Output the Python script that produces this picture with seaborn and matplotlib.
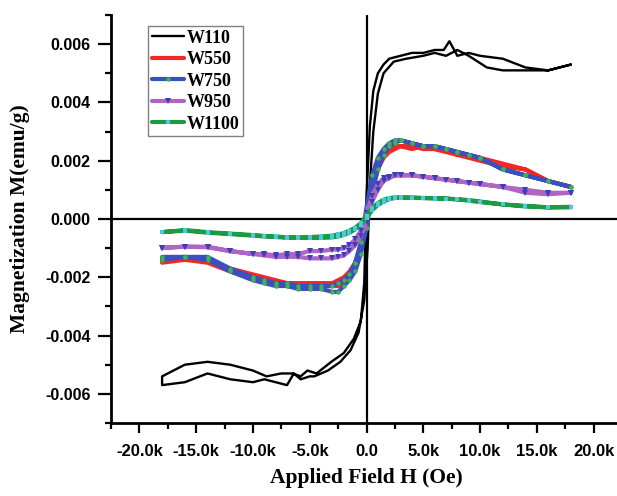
import matplotlib
matplotlib.use("Agg")
import matplotlib.pyplot as plt
import seaborn as sns
import pandas as pd
from matplotlib.ticker import MultipleLocator, FuncFormatter

# field grid (Oe) used by the W550..W1100 loops, descending sweep
H_down = [18000, 16000, 14000, 12000, 10000, 9000, 8000, 7000, 6000, 5000, 4000, 3000, 2500, 2000,
          1500, 1000, 500, 0, -500, -1000, -1500, -2000, -2500, -3000, -4000, -5000, -6000, -7000,
          -8000, -9000, -10000, -12000, -14000, -16000, -18000]
H_up = H_down[::-1]

# W110 (black) has its own points
W110_H_down = [18000, 16000, 14000, 12000, 10000, 9000, 8000, 7300, 6800, 6000, 5000, 4000, 3000, 2000,
               1500, 1000, 600, 300, 0, -200, -500, -1100, -2000, -3100, -4400, -5200, -5800, -6500,
               -7500, -8800, -10000, -12000, -14000, -16000, -18000]
W110_M_down = [0.0053, 0.0051, 0.0052, 0.0055, 0.0056, 0.0057, 0.0056, 0.0061, 0.0058, 0.0058, 0.0057,
               0.0057, 0.0056, 0.0055, 0.0053, 0.0050, 0.0044, 0.0032, 0.0008, -0.0022, -0.0035, -0.0041,
               -0.0046, -0.0049, -0.0053, -0.0052, -0.0054, -0.0053, -0.0053, -0.0054, -0.0052, -0.0050,
               -0.0049, -0.0050, -0.0054]
W110_H_up = [-18000, -16000, -14000, -12000, -10000, -9000, -8000, -7000, -6400, -5800, -5000, -4600,
             -3400, -2300, -1400, -700, -200, 100, 300, 600, 1000, 1500, 2400, 3500, 5000, 6000, 7000,
             8000, 9000, 10600, 12000, 14000, 16000, 18000]
W110_M_up = [-0.0057, -0.0056, -0.0053, -0.0055, -0.0056, -0.0055, -0.0056, -0.0057, -0.0053, -0.0055,
             -0.0054, -0.0054, -0.0052, -0.0049, -0.0045, -0.0039, -0.0028, -0.0010, 0.0012, 0.0030,
             0.0043, 0.0050, 0.0054, 0.0055, 0.0056, 0.0057, 0.0056, 0.0058, 0.0056, 0.0052, 0.0051,
             0.0051, 0.0051, 0.0053]

W550_down = [0.0011, 0.0013, 0.0017, 0.0019, 0.0021, 0.0022, 0.0022, 0.0023, 0.0024, 0.0024, 0.0025,
             0.0025, 0.0025, 0.0024, 0.0022, 0.0019, 0.0013, 0.0002, -0.0009, -0.0015, -0.0018, -0.0020,
             -0.0021, -0.0022, -0.0022, -0.0022, -0.0022, -0.0022, -0.0021, -0.0020, -0.0019, -0.0017,
             -0.0014, -0.0014, -0.0014]
W550_up = [-0.0015, -0.0014, -0.0015, -0.0018, -0.0020, -0.0021, -0.0022, -0.0023, -0.0023, -0.0023,
           -0.0023, -0.0023, -0.0023, -0.0022, -0.0020, -0.0017, -0.0011, -0.0002, 0.0010, 0.0017,
           0.0021, 0.0023, 0.0024, 0.0025, 0.0024, 0.0025, 0.0024, 0.0024, 0.0022, 0.0021, 0.0020,
           0.0018, 0.0017, 0.0013, 0.0011]

W750_down = [0.0011, 0.0013, 0.0015, 0.0017, 0.0021, 0.0022, 0.0023, 0.0024, 0.0025, 0.0025, 0.0026,
             0.0027, 0.0027, 0.0026, 0.0024, 0.0021, 0.0015, 0.0004, -0.0008, -0.0015, -0.0019, -0.0021,
             -0.0022, -0.0023, -0.0023, -0.0023, -0.0023, -0.0022, -0.0022, -0.0021, -0.0020, -0.0017,
             -0.0013, -0.0013, -0.0013]
W750_up = [-0.0014, -0.0013, -0.0014, -0.0018, -0.0021, -0.0022, -0.0023, -0.0023, -0.0024, -0.0024,
           -0.0024, -0.0025, -0.0025, -0.0023, -0.0021, -0.0018, -0.0012, -0.0003, 0.0009, 0.0017,
           0.0022, 0.0025, 0.0026, 0.0027, 0.0026, 0.0025, 0.0025, 0.0024, 0.0023, 0.0022, 0.0021,
           0.0017, 0.0015, 0.0013, 0.0011]

W950_down = [0.0009, 0.0009, 0.0010, 0.0011, 0.0012, 0.00125, 0.0013, 0.00135, 0.0014, 0.00145, 0.0015,
             0.0015, 0.0015, 0.00145, 0.0014, 0.0012, 0.0008, 0.0002, -0.0004, -0.0007, -0.0009, -0.0010,
             -0.00105, -0.00105, -0.0011, -0.0011, -0.0012, -0.0012, -0.00125, -0.0012, -0.0012, -0.0011,
             -0.00095, -0.00095, -0.00098]
W950_up = [-0.0010, -0.00095, -0.00097, -0.0011, -0.0012, -0.00125, -0.0013, -0.0013, -0.0013, -0.00135,
           -0.00135, -0.00135, -0.0013, -0.00125, -0.0011, -0.0009, -0.0006, -0.0001, 0.0006, 0.0010,
           0.0013, 0.0014, 0.0015, 0.0015, 0.0015, 0.00145, 0.0014, 0.00135, 0.0013, 0.00125, 0.0012,
           0.0011, 0.0009, 0.00085, 0.0009]

W1100_down = [0.0004, 0.0004, 0.00045, 0.0005, 0.0006, 0.00065, 0.00068, 0.0007, 0.00072, 0.00072,
              0.00073, 0.00074, 0.00074, 0.00072, 0.00066, 0.00055, 0.00038, 0.00012, -0.00014, -0.0003,
              -0.0004, -0.00048, -0.00053, -0.00057, -0.0006, -0.00062, -0.00063, -0.00063, -0.0006,
              -0.00058, -0.00055, -0.0005, -0.00045, -0.00038, -0.00045]
W1100_up = [-0.00045, -0.0004, -0.00047, -0.00052, -0.00057, -0.0006, -0.00062, -0.00064, -0.00065,
            -0.00065, -0.00065, -0.00063, -0.0006, -0.00055, -0.00047, -0.00036, -0.0002, 0.00005, 0.0003,
            0.00048, 0.0006, 0.00068, 0.00072, 0.00073, 0.00073, 0.00072, 0.0007, 0.0007, 0.00067,
            0.00063, 0.00058, 0.0005, 0.00043, 0.0004, 0.00042]

sns.set_theme(style="ticks")
plt.rcParams["font.family"] = ["Liberation Sans", "DejaVu Sans"]
plt.rcParams["font.weight"] = "bold"
plt.rcParams["text.color"] = "black"
plt.rcParams["axes.labelcolor"] = "black"

fig = plt.figure(figsize=(6.17, 4.96), dpi=100)
ax = fig.add_axes([111 / 617, 1 - 423 / 496, 511 / 617, 408 / 496])

ax.axhline(0, color="black", lw=1.6, zorder=1)
ax.axvline(0, color="black", lw=1.6, zorder=1)

df = pd.DataFrame({"H": W110_H_down + W110_H_up, "M": W110_M_down + W110_M_up})
sns.lineplot(data=df, x="H", y="M", sort=False, estimator=None, color="black", lw=1.7,
             label="W110", ax=ax)

loops = [
    ("W550", W550_down, W550_up, "#f02828", None, None, 0),
    ("W750", W750_down, W750_up, "#3c4fbe", "o", "#3cb450", 3.2),
    ("W950", W950_down, W950_up, "#b065c4", "v", "#3b3fb8", 4.0),
    ("W1100", W1100_down, W1100_up, "#1e9a46", "s", "#4cc8dc", 3.0),
]
for name, m_down, m_up, col, mk, mcol, ms in loops:
    df = pd.DataFrame({"H": H_down + H_up, "M": m_down + m_up})
    kw = {}
    if mk is not None:
        kw = dict(marker=mk, markersize=ms, markerfacecolor=mcol, markeredgecolor=mcol,
                  markeredgewidth=0)
    sns.lineplot(data=df, x="H", y="M", sort=False, estimator=None, color=col, lw=3.0,
                 label=name, ax=ax, **kw)

ax.set_xlim(-22500, 22500)
ax.set_ylim(-0.007, 0.007)
ax.xaxis.set_major_locator(MultipleLocator(5000))
ax.xaxis.set_minor_locator(MultipleLocator(2500))
ax.yaxis.set_major_locator(MultipleLocator(0.002))
ax.yaxis.set_minor_locator(MultipleLocator(0.001))
ax.xaxis.set_major_formatter(FuncFormatter(lambda v, p: "0.0" if abs(v) < 1 else f"{v / 1000:.1f}k"))
ax.yaxis.set_major_formatter(FuncFormatter(lambda v, p: f"{v:.3f}".replace("-0.000", "0.000")))

for side in ["top", "right"]:
    ax.spines[side].set_visible(False)
for side in ["left", "bottom"]:
    ax.spines[side].set_linewidth(2.0)
    ax.spines[side].set_color("black")

ax.tick_params(axis="both", which="both", direction="out", width=1.6, color="black",
               labelcolor="black")
ax.tick_params(axis="y", which="major", length=9.5, pad=5, labelsize=11.5)
ax.tick_params(axis="y", which="minor", length=4.5)
ax.tick_params(axis="x", which="major", length=7, pad=8, labelsize=12)
ax.tick_params(axis="x", which="minor", length=4)

serif = ["Liberation Serif", "DejaVu Serif"]
ax.set_xlabel("Applied Field H (Oe)", fontsize=15.5, fontweight="bold", family=serif, color="black")
ax.set_ylabel("Magnetization M(emu/g)", fontsize=15.5, fontweight="bold", family=serif, color="black")
ax.xaxis.set_label_coords(0.5, -0.11)
ax.yaxis.set_label_coords(-0.158, 0.5)

leg = ax.legend(loc="upper left", bbox_to_anchor=(0.073, 0.973), borderaxespad=0,
                prop={"family": serif, "weight": "bold", "size": 13}, frameon=True,
                fancybox=False, edgecolor="#808080", framealpha=1, numpoints=1,
                handlelength=1.8, handletextpad=0.15, labelspacing=0.25, borderpad=0.2)
leg.get_frame().set_linewidth(1.0)
for t in leg.get_texts():
    t.set_color("black")

fig.savefig("out.png", dpi=100)
